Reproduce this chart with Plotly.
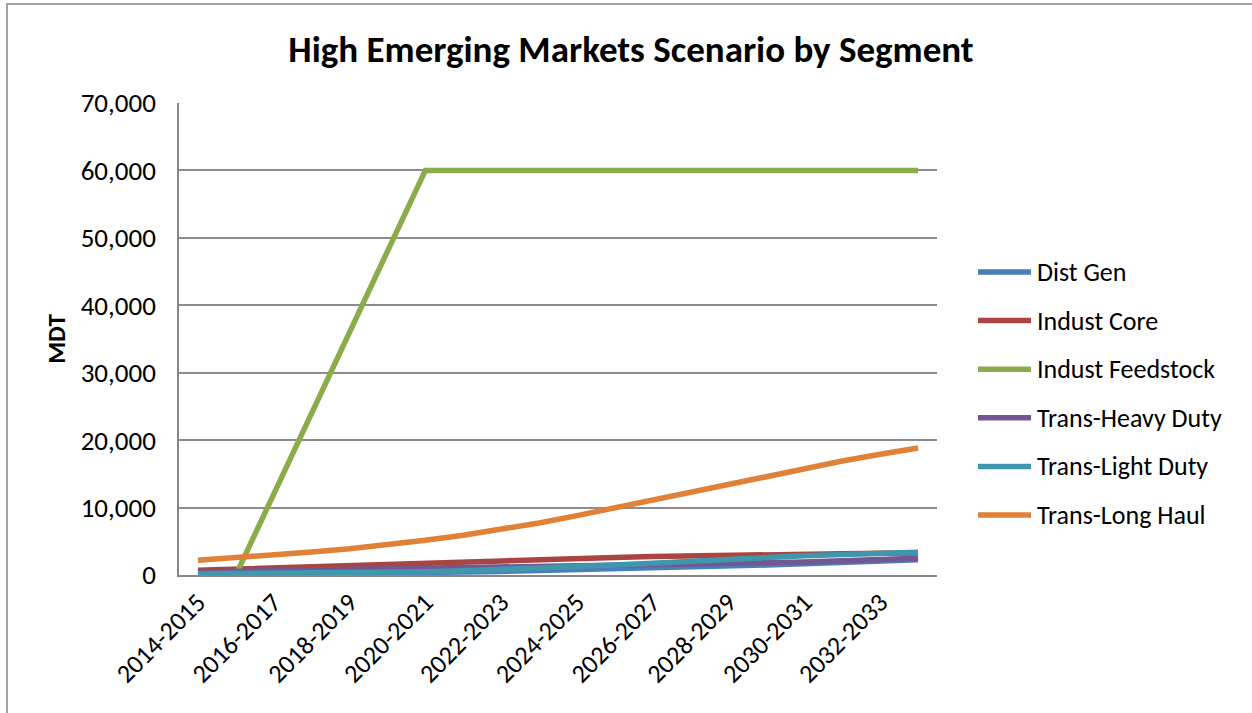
import plotly.graph_objects as go

# Fiscal-year categories (annual)
years = [f"{y}-{y + 1}" for y in range(2014, 2034)]
tick_years = years[::2]

# Demand by segment, MDT
dist_gen = [150, 170, 200, 230, 270, 310, 360, 430, 520, 630,
            750, 880, 1010, 1150, 1300, 1480, 1660, 1850, 2060, 2280]
indust_core = [700, 890, 1080, 1260, 1440, 1620, 1800, 1980, 2150, 2310,
               2460, 2600, 2730, 2850, 2950, 3040, 3110, 3170, 3230, 3280]
indust_feedstock = [0, 0, 12000, 24000, 36000, 48000, 60000, 60000, 60000, 60000,
                    60000, 60000, 60000, 60000, 60000, 60000, 60000, 60000, 60000, 60000]
trans_heavy = [450, 560, 670, 780, 890, 1000, 1100, 1180, 1250, 1310,
               1370, 1430, 1500, 1580, 1680, 1800, 1940, 2100, 2280, 2480]
trans_light = [200, 220, 250, 290, 340, 400, 480, 620, 800, 1000,
               1230, 1480, 1750, 2050, 2380, 2650, 2850, 3030, 3200, 3370]
trans_long_haul = [2200, 2570, 2970, 3410, 3900, 4480, 5150, 5900, 6750, 7720,
                   8800, 9950, 11130, 12320, 13510, 14690, 15830, 16900, 17900, 18830]

series_names = ["Dist Gen", "Indust Core", "Indust Feedstock",
                "Trans-Heavy Duty", "Trans-Light Duty", "Trans-Long Haul"]
series_values = [dist_gen, indust_core, indust_feedstock,
                 trans_heavy, trans_light, trans_long_haul]
series_colors = ["#4A7EBB", "#A94442", "#8CAC4C", "#725793", "#3F97AE", "#E08137"]

W, H = 1252, 713
ML, MR, MT, MB = 179, 315, 103, 138
FONT = "Carlito, Calibri, Lato, sans-serif"
LINE_W = 5.5

pw = W - ML - MR
ph = H - MT - MB


def px_x(v):
    return (v - ML) / pw


def px_y(v):
    return (H - MB - v) / ph


fig = go.Figure()
for name, vals, col in zip(series_names, series_values, series_colors):
    fig.add_trace(go.Scatter(
        x=years, y=vals, name=name, mode="lines",
        line=dict(color=col, width=LINE_W),
        showlegend=False,
    ))

# legend: long line keys with labels to their right
LEG_TOP, LEG_STEP = 272, 48.6
for i, (name, col) in enumerate(zip(series_names, series_colors)):
    yy = px_y(LEG_TOP + i * LEG_STEP)
    fig.add_shape(type="line", xref="paper", yref="paper",
                  x0=px_x(978), x1=px_x(1031), y0=yy, y1=yy,
                  line=dict(color=col, width=LINE_W))
    fig.add_annotation(xref="paper", yref="paper", x=px_x(1035), y=yy,
                       xanchor="left", yanchor="middle", showarrow=False,
                       text=name, font=dict(size=26, family=FONT, color="black"))

# chart border
fig.add_shape(type="rect", xref="paper", yref="paper",
              x0=px_x(7), x1=px_x(1260), y0=px_y(720), y1=px_y(4),
              line=dict(color="#868686", width=1.5), layer="below")

fig.update_layout(
    width=W, height=H,
    margin=dict(l=ML, r=MR, t=MT, b=MB),
    paper_bgcolor="white", plot_bgcolor="white",
    font=dict(family=FONT, color="black"),
    title=dict(text="<b>High Emerging Markets Scenario by Segment</b>",
               x=px_x(631), xanchor="center", xref="paper",
               y=1 - 49 / H, yanchor="middle",
               font=dict(size=37, family=FONT, color="black")),
    showlegend=False,
    xaxis=dict(type="category", tickmode="array", tickvals=tick_years,
               ticktext=tick_years, tickangle=-45,
               tickfont=dict(size=26, family=FONT, color="black"),
               showgrid=False, showline=True, linecolor="#868686", linewidth=1.5,
               ticks="", range=[-0.5, len(years) - 0.5]),
    yaxis=dict(range=[0, 70000], dtick=10000, tickformat=",",
               tickfont=dict(size=27, family=FONT, color="black"),
               ticklabelstandoff=16,
               showgrid=True, gridcolor="#8C8C8C", gridwidth=1.5,
               showline=True, linecolor="#868686", linewidth=1.5,
               zeroline=False, ticks="", ticklen=0,
               title=dict(text="<b>MDT</b>", font=dict(size=25, family=FONT),
                          standoff=8)),
)

fig.write_html("out.html")
